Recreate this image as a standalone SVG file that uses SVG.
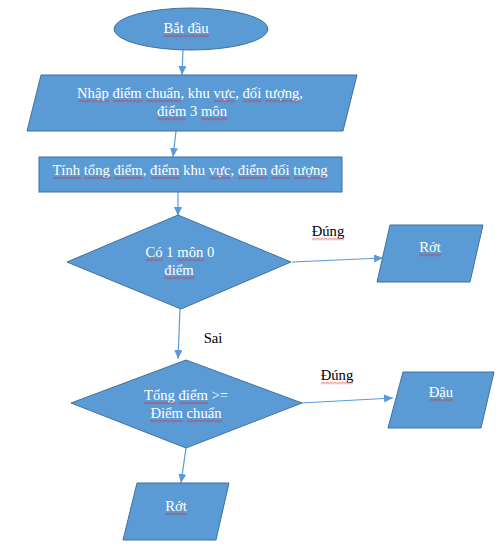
<svg xmlns="http://www.w3.org/2000/svg" width="500" height="549" viewBox="0 0 500 549">
  <style>
    .shape { fill: #5B9BD5; stroke: #41719C; stroke-width: 1; }
    .t { font-family: "Liberation Serif", "Times New Roman", serif; font-size: 14.67px; fill: #FFFFFF; text-anchor: middle; }
    .lbl { font-family: "Liberation Serif", "Times New Roman", serif; font-size: 14.67px; fill: #000000; text-anchor: middle; }
    .edge { fill: none; stroke: #5B9BD5; stroke-width: 1.2; marker-end: url(#arrow); }
    .sq { fill: url(#squiggle); }
  </style>
  <defs>
    <marker id="arrow" markerUnits="userSpaceOnUse" markerWidth="9" markerHeight="8" refX="9" refY="4" orient="auto">
      <path d="M0,0 L9,4 L0,8 z" fill="#5B9BD5"/>
    </marker>
    <!-- spell-check wave drawn under flagged words -->
    <pattern id="squiggle" patternUnits="userSpaceOnUse" width="4" height="3">
      <polyline points="0,2.5 2,0.5 4,2.5" fill="none" stroke="#E02020" stroke-width="0.9"/>
    </pattern>
  </defs>

  <rect width="500" height="549" fill="#FFFFFF"/>

  <!-- connectors -->
  <g id="connectors">
    <line class="edge" x1="183" y1="50" x2="182" y2="75"/>
    <line class="edge" x1="176" y1="131" x2="173" y2="157"/>
    <line class="edge" x1="178" y1="192" x2="178" y2="216"/>
    <line class="edge" x1="292" y1="262" x2="383" y2="258"/>
    <line class="edge" x1="180" y1="309" x2="178" y2="359"/>
    <line class="edge" x1="301" y1="403" x2="393" y2="398"/>
    <line class="edge" x1="186" y1="448" x2="181" y2="483"/>
    <text class="lbl" x="328" y="236">Đúng</text>
    <rect class="sq" transform="translate(312,237.5)" width="32" height="3"/>
    <text class="lbl" x="213" y="343">Sai</text>
    <text class="lbl" x="337" y="380">Đúng</text>
    <rect class="sq" transform="translate(321,381.5)" width="32" height="3"/>
  </g>

  <!-- start -->
  <g id="start">
    <ellipse class="shape" cx="191" cy="29" rx="77" ry="21"/>
    <text class="t" x="186" y="33">Bắt đầu</text>
    <rect class="sq" transform="translate(163,34.5)" width="46" height="3"/>
  </g>

  <!-- input -->
  <g id="input">
    <polygon class="shape" points="41,75 357,75 343,131 27,131"/>
    <text class="t" x="190" y="98">Nhập điểm chuẩn, khu vực, đối tượng,</text>
    <text class="t" x="192" y="116">điểm 3 môn</text>
    <g transform="translate(0,99.5)">
      <rect class="sq" transform="translate(78,0)" width="31" height="3"/>
      <rect class="sq" transform="translate(113,0)" width="30" height="3"/>
      <rect class="sq" transform="translate(146,0)" width="35" height="3"/>
      <rect class="sq" transform="translate(214,0)" width="21" height="3"/>
      <rect class="sq" transform="translate(243,0)" width="19" height="3"/>
      <rect class="sq" transform="translate(265,0)" width="34" height="3"/>
    </g>
    <g transform="translate(0,117.5)">
      <rect class="sq" transform="translate(157,0)" width="29" height="3"/>
      <rect class="sq" transform="translate(201,0)" width="26" height="3"/>
    </g>
  </g>

  <!-- compute -->
  <g id="compute">
    <rect class="shape" x="39" y="157" width="303" height="35"/>
    <text class="t" x="190" y="175">Tính tổng điểm, điểm khu vực, điểm đối tượng</text>
    <g transform="translate(0,176.5)">
      <rect class="sq" transform="translate(53,0)" width="28" height="3"/>
      <rect class="sq" transform="translate(84,0)" width="27" height="3"/>
      <rect class="sq" transform="translate(114,0)" width="30" height="3"/>
      <rect class="sq" transform="translate(151,0)" width="29" height="3"/>
      <rect class="sq" transform="translate(210,0)" width="21" height="3"/>
      <rect class="sq" transform="translate(238,0)" width="30" height="3"/>
      <rect class="sq" transform="translate(271,0)" width="19" height="3"/>
      <rect class="sq" transform="translate(294,0)" width="33" height="3"/>
    </g>
  </g>

  <!-- decision: any zero subject -->
  <g id="check-zero">
    <polygon class="shape" points="178,215 291,262 181,309 67,262"/>
    <text class="t" x="180" y="257">Có 1 môn 0</text>
    <text class="t" x="179" y="275">điểm</text>
    <rect class="sq" transform="translate(146,258.5)" width="17" height="3"/>
    <rect class="sq" transform="translate(177,258.5)" width="27" height="3"/>
    <rect class="sq" transform="translate(164,276.5)" width="30" height="3"/>
  </g>

  <!-- output: fail (zero subject) -->
  <g id="fail-1">
    <polygon class="shape" points="390,225 483,225 470,282 377,282"/>
    <text class="t" x="430" y="252">Rớt</text>
    <rect class="sq" transform="translate(419,253.5)" width="22" height="3"/>
  </g>

  <!-- decision: total vs cut-off -->
  <g id="check-total">
    <polygon class="shape" points="186,360 302,403 186,448 71,403"/>
    <text class="t" x="186" y="400">Tổng điểm &gt;=</text>
    <text class="t" x="186" y="418">Điểm chuẩn</text>
    <rect class="sq" transform="translate(144,401.5)" width="31" height="3"/>
    <rect class="sq" transform="translate(179,401.5)" width="29" height="3"/>
    <rect class="sq" transform="translate(150,419.5)" width="33" height="3"/>
    <rect class="sq" transform="translate(187,419.5)" width="35" height="3"/>
  </g>

  <!-- output: pass -->
  <g id="pass">
    <polygon class="shape" points="403,372 494,372 481,428 388,428"/>
    <text class="t" x="441" y="397">Đậu</text>
    <rect class="sq" transform="translate(429,398.5)" width="24" height="3"/>
  </g>

  <!-- output: fail (below cut-off) -->
  <g id="fail-2">
    <polygon class="shape" points="137,483 229,483 216,540 123,540"/>
    <text class="t" x="176" y="511">Rớt</text>
    <rect class="sq" transform="translate(165,512.5)" width="22" height="3"/>
  </g>
</svg>
